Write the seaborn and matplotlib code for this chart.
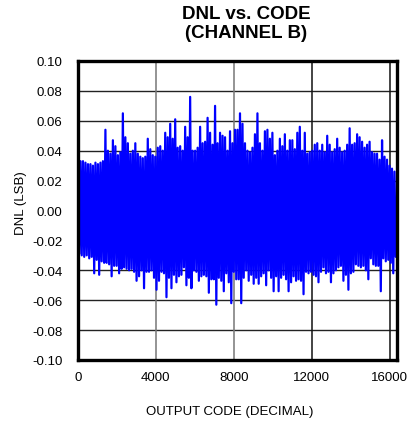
import numpy as np
import pandas as pd
import matplotlib
matplotlib.use("Agg")
import matplotlib.pyplot as plt
import seaborn as sns

# Peak DNL per 128-code bin (upper / lower edge of the band)
dnl_upper = [
    0.027, 0.033, 0.033, 0.032, 0.031, 0.031, 0.030, 0.032, 0.031, 0.032, 0.033, 0.054, 0.040, 0.038, 0.047, 0.043,
    0.037, 0.039, 0.065, 0.049, 0.045, 0.038, 0.040, 0.045, 0.038, 0.036, 0.035, 0.036, 0.048, 0.041, 0.037, 0.036,
    0.042, 0.043, 0.040, 0.052, 0.049, 0.058, 0.048, 0.061, 0.042, 0.043, 0.040, 0.056, 0.049, 0.076, 0.040, 0.040,
    0.042, 0.056, 0.045, 0.046, 0.062, 0.052, 0.044, 0.070, 0.045, 0.052, 0.050, 0.049, 0.040, 0.053, 0.045, 0.054,
    0.054, 0.065, 0.058, 0.045, 0.040, 0.039, 0.042, 0.051, 0.065, 0.045, 0.040, 0.053, 0.054, 0.048, 0.052, 0.037,
    0.040, 0.048, 0.043, 0.051, 0.040, 0.047, 0.047, 0.041, 0.052, 0.056, 0.040, 0.052, 0.038, 0.039, 0.040, 0.044,
    0.045, 0.040, 0.044, 0.039, 0.050, 0.044, 0.039, 0.041, 0.048, 0.042, 0.039, 0.040, 0.044, 0.055, 0.044, 0.045,
    0.051, 0.049, 0.046, 0.042, 0.044, 0.046, 0.039, 0.038, 0.038, 0.034, 0.047, 0.036, 0.034, 0.030, 0.028, 0.026,
]
dnl_lower = [
    -0.029, -0.030, -0.031, -0.030, -0.032, -0.031, -0.042, -0.033, -0.043, -0.034, -0.035, -0.035, -0.036, -0.044, -0.037, -0.037,
    -0.042, -0.039, -0.038, -0.039, -0.040, -0.039, -0.041, -0.047, -0.044, -0.040, -0.052, -0.041, -0.041, -0.040, -0.045, -0.053,
    -0.047, -0.041, -0.042, -0.058, -0.045, -0.052, -0.043, -0.048, -0.044, -0.043, -0.038, -0.050, -0.045, -0.052, -0.040, -0.041,
    -0.047, -0.044, -0.043, -0.044, -0.055, -0.046, -0.046, -0.063, -0.045, -0.047, -0.054, -0.042, -0.048, -0.062, -0.041, -0.046,
    -0.046, -0.062, -0.045, -0.040, -0.047, -0.043, -0.049, -0.045, -0.049, -0.044, -0.042, -0.050, -0.040, -0.045, -0.054, -0.044,
    -0.054, -0.045, -0.043, -0.046, -0.054, -0.048, -0.044, -0.047, -0.046, -0.047, -0.056, -0.041, -0.042, -0.041, -0.043, -0.044,
    -0.048, -0.041, -0.038, -0.042, -0.041, -0.048, -0.042, -0.040, -0.038, -0.037, -0.047, -0.043, -0.053, -0.042, -0.041, -0.036,
    -0.037, -0.038, -0.037, -0.040, -0.046, -0.032, -0.036, -0.037, -0.037, -0.054, -0.032, -0.034, -0.033, -0.035, -0.042, -0.031,
]
x_ticks = [0, 4000, 8000, 12000, 16000]
y_ticks = [-0.10, -0.08, -0.06, -0.04, -0.02, 0.00, 0.02, 0.04, 0.06, 0.08, 0.10]
n_codes = 16384

# interleave upper/lower so the trace swings across the band like the real data
dnl = np.column_stack([dnl_upper, dnl_lower]).ravel()
codes = np.arange(len(dnl)) * (n_codes // len(dnl))
df = pd.DataFrame({"code": codes, "dnl": dnl})

sns.set_style("white")
plt.rcParams["font.family"] = ["Liberation Sans", "DejaVu Sans"]
plt.rcParams["text.color"] = "black"
plt.rcParams["axes.labelcolor"] = "black"
plt.rcParams["xtick.color"] = "black"
plt.rcParams["ytick.color"] = "black"

fig = plt.figure(figsize=(4.07, 4.27), dpi=100)
ax = fig.add_axes([78 / 407, 66 / 427, 319 / 407, 299 / 427])

sns.lineplot(data=df, x="code", y="dnl", ax=ax, color="#0000FF", linewidth=1.6,
             estimator=None, sort=False)

ax.set_xlim(0, n_codes)
ax.set_ylim(-0.10, 0.10)
ax.set_xticks(x_ticks)
ax.set_yticks(y_ticks)
ax.set_yticklabels([f"{v:.2f}" for v in y_ticks])
ax.tick_params(length=0, labelsize=9.5)
ax.tick_params(axis="x", pad=8)
ax.tick_params(axis="y", pad=11)

for v in y_ticks[1:-1]:
    ax.axhline(v, color="#222222", linewidth=1.0, zorder=0)
for v in x_ticks[1:]:
    ax.axvline(v, color="#777777" if v < 12000 else "#111111", linewidth=1.1, zorder=0)

for s in ax.spines.values():
    s.set_visible(True)
    s.set_color("black")
    s.set_linewidth(2.4)

ax.set_xlabel("OUTPUT CODE (DECIMAL)", fontsize=9.5)
ax.set_ylabel("DNL (LSB)", fontsize=9.5)
ax.xaxis.label.set_va("center")
ax.yaxis.label.set_va("center")
ax.xaxis.set_label_coords(0.476, -0.171)
ax.yaxis.set_label_coords(-0.179, 0.528)

fig.text(246 / 407, 1 - 24 / 427, "DNL vs. CODE\n(CHANNEL B)", ha="center", va="center",
         fontsize=13.5, fontweight="bold", linespacing=1.2)

fig.savefig("out.png", dpi=100)
